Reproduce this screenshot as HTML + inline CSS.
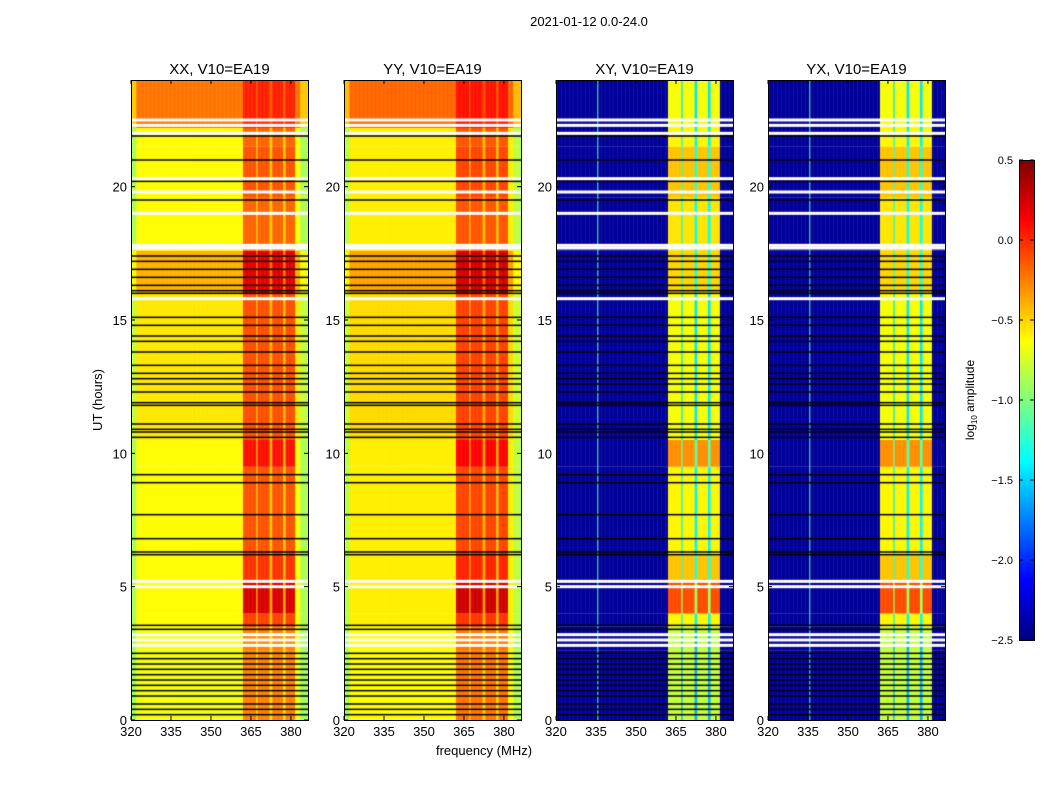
<!DOCTYPE html>
<html><head><meta charset="utf-8">
<style>
body{margin:0;background:#fff;width:1050px;height:800px;position:relative;overflow:hidden;font-family:"Liberation Sans","DejaVu Sans",sans-serif}
canvas{position:absolute}
svg{position:absolute;left:0;top:0}
</style></head><body>
<canvas id="c0" width="177" height="640" style="left:131px;top:80px"></canvas>
<canvas id="c1" width="177" height="640" style="left:344px;top:80px"></canvas>
<canvas id="c2" width="177" height="640" style="left:556px;top:80px"></canvas>
<canvas id="c3" width="177" height="640" style="left:768px;top:80px"></canvas>
<canvas id="cb" width="15" height="480" style="left:1019px;top:160px"></canvas>
<svg id="ov" width="1050" height="800"></svg>
<script>
// ---- data ----
const panelTitles = ["XX, V10=EA19","YY, V10=EA19","XY, V10=EA19","YX, V10=EA19"];
const xTicks = [320,335,350,365,380];
const yTicks = [0,5,10,15,20];
const cbTicks = [0.5,0.0,-0.5,-1.0,-1.5,-2.0,-2.5];
// time segments: start, end (hours), parallel base, parallel band boost, cross band level
const segStart = [0,2.6,3.5,4.0,5.2,6.2,9.5,10.5,16,17.6,19.6,21.5,22.2];
const segEnd   = [2.6,3.5,4.0,5.2,6.2,9.5,10.5,16,17.6,19.6,21.5,22.2,24];
const parBase  = [-0.66,-0.66,-0.62,-0.62,-0.62,-0.62,-0.62,-0.56,-0.4,-0.62,-0.62,-0.62,-0.22];
const parBand  = [0.4,0.4,0.55,0.85,0.6,0.5,0.7,0.45,0.6,0.45,0.5,0.45,0.25];
const crossBand= [-0.8,-0.8,-0.6,-0.1,-0.45,-0.6,-0.3,-0.65,-0.5,-0.55,-0.45,-0.6,-0.65];
const crossBase = -2.42;
// frequency band layout (MHz)
const bandLo=[362,367.3,372.6,377.6];
const bandHi=[366.6,371.9,377.0,381.2];
const edgeDrop=[320,322,383,386.5];
const yyOffset = 0.04;
const blackLines=[0.2,0.4,0.6,0.9,1.1,1.3,1.5,1.7,1.9,2.1,2.3,2.5,3.4,3.55,6.2,6.3,6.8,7.7,8.9,9.2,10.6,10.8,10.9,11.1,11.8,11.9,12.3,12.6,12.8,13.0,13.3,13.8,14.2,14.4,14.8,15.1,16.0,16.1,16.3,16.6,16.9,17.2,17.4,19.5,20.2,21.0,21.9];
const whiteLines=[2.8,3.0,3.2,5.0,5.2,15.8,17.7,17.8,19.0,19.8,20.3,22.0,22.3,22.5];
const crossLineF = 335.5;

// ---- scales ----
const F0=320,F1=386.4,T0=0,T1=24,W=177,H=640;
const fx=f=>(f-F0)/(F1-F0)*W;
const ty=t=>H-(t-T0)/(T1-T0)*H;
function jet(v){ // v in -2.5..0.5
  let x=(v+2.5)/3; x=Math.max(0,Math.min(1,x));
  const c=t=>Math.max(0,Math.min(1,t));
  const r=c(1.5-Math.abs(4*x-3)), g=c(1.5-Math.abs(4*x-2)), b=c(1.5-Math.abs(4*x-1));
  return `rgb(${r*255|0},${g*255|0},${b*255|0})`;
}
function inBand(f){for(let i=0;i<bandLo.length;i++)if(f>=bandLo[i]&&f<bandHi[i])return 1;return (f>=bandLo[0]&&f<bandHi[3])?0.5:0;}
function draw(id,cross,off){
  const ctx=document.getElementById(id).getContext('2d');
  for(let s=0;s<segStart.length;s++){
    const y0=ty(segEnd[s]),y1=ty(segStart[s]);
    for(let f=F0;f<F1;f+=0.5){
      const b=inBand(f);
      let v;
      if(cross){v = b===1?crossBand[s]:(b===0.5?crossBand[s]-0.8:crossBase);}
      else{v=parBase[s]+off+(b===1?parBand[s]:(b===0.5?parBand[s]*0.3:0));
        if(f<edgeDrop[1]||f>edgeDrop[2])v-=0.25;}
      ctx.fillStyle=jet(v);
      ctx.fillRect(fx(f),y0,fx(f+0.5)-fx(f)+0.5,y1-y0);
    }
  }
  if(cross){ctx.fillStyle=jet(-1.1);ctx.fillRect(fx(crossLineF),0,1,H);}
  ctx.fillStyle='#000';
  blackLines.forEach(t=>ctx.fillRect(0,ty(t)-0.75,W,1.5));
  ctx.fillStyle='#fff';
  whiteLines.forEach(t=>ctx.fillRect(0,ty(t)-1.5,W,3));
}
draw('c0',false,0);draw('c1',false,yyOffset);draw('c2',true,0);draw('c3',true,0);
const cb=document.getElementById('cb').getContext('2d');
for(let i=0;i<480;i++){cb.fillStyle=jet(0.5-i/480*3);cb.fillRect(0,i,15,1);}

// ---- axes ----
const NS='http://www.w3.org/2000/svg',ov=document.getElementById('ov');
function el(tag,attrs,txt){const e=document.createElementNS(NS,tag);for(const k in attrs)e.setAttribute(k,attrs[k]);if(txt!==undefined)e.textContent=txt;ov.appendChild(e);return e;}
const lefts=[131,344,556,768];
lefts.forEach((L,p)=>{
  const r=el('rect',{x:L+0.5,y:80.5,width:W,height:H,fill:'none',stroke:'#000'});
  
  
  const t=el('text',{x:L+W/2,y:74,'text-anchor':'middle','font-size':15},panelTitles[p]);
  
  
  xTicks.forEach(v=>{const x=L+fx(v);
    el('line',{x1:x,x2:x,y1:720,y2:716,stroke:'#000'});el('line',{x1:x,x2:x,y1:80,y2:84,stroke:'#000'});
    const l=el('text',{x:x,y:736,'text-anchor':'middle','font-size':13},v);
    
    });
  yTicks.forEach(v=>{const y=80+ty(v);
    el('line',{x1:L,x2:L+4,y1:y,y2:y,stroke:'#000'});el('line',{x1:L+W,x2:L+W-4,y1:y,y2:y,stroke:'#000'});
    const l=el('text',{x:L-4,y:y+5,'text-anchor':'end','font-size':13},v);
    
    });
});
const st=el('text',{x:589,y:26,'text-anchor':'middle','font-size':13},'2021-01-12 0.0-24.0');


const xl=el('text',{x:484,y:755,'text-anchor':'middle','font-size':13},'frequency (MHz)');


const yl=el('text',{x:0,y:0,'text-anchor':'middle','font-size':13,transform:'translate(102,400) rotate(-90)'},'UT (hours)');


const cf=el('rect',{x:1019.5,y:160.5,width:15,height:480,fill:'none',stroke:'#000'});


cbTicks.forEach(v=>{const y=160+(0.5-v)/3*480;
  el('line',{x1:1019,x2:1023,y1:y,y2:y,stroke:'#000'});el('line',{x1:1034,x2:1030,y1:y,y2:y,stroke:'#000'});
  const l=el('text',{x:1013,y:y+4,'text-anchor':'end','font-size':11},v.toFixed(1).replace('-','\u2212'));
  
  });
const cl=el('text',{x:0,y:0,'text-anchor':'middle','font-size':12,transform:'translate(974,400) rotate(-90)'});


cl.innerHTML='log<tspan font-size="8" dy="3">10</tspan><tspan dy="-3"> amplitude</tspan>';
</script>
</body></html>
